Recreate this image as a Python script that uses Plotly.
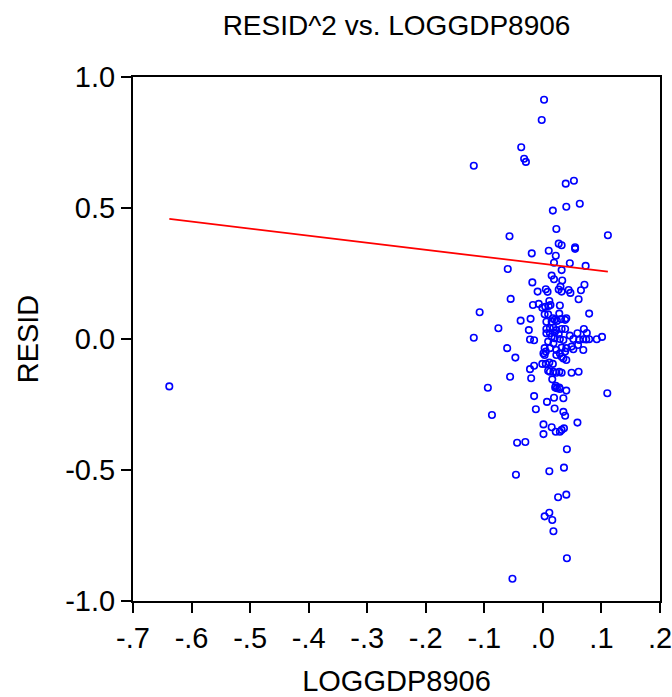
import plotly.graph_objects as go

# LOGGDP8906 (x) and RESID (y) values
loggdp8906 = [
    0.002, -0.002, -0.037, -0.032, -0.029, -0.118, 0.053, 0.039, 0.063, 0.040,
    0.017, 0.023, -0.057, 0.111, 0.027, 0.032, 0.055, 0.055, 0.010, -0.019, 0.022,
    -0.060, 0.019, 0.032, 0.046, 0.073, 0.015, 0.019, 0.033, -0.018, 0.071,
    0.030, 0.027, 0.032, 0.005, 0.008, -0.009, 0.044, 0.047, 0.065, 0.061, -0.055,
    0.011, -0.007, -0.017, -0.001, 0.004, 0.010, 0.013, 0.029, -0.108, 0.003,
    0.009, 0.028, 0.079, -0.021, 0.017, 0.040, 0.031, -0.038, 0.006, 0.015,
    0.020, 0.024, 0.038,
    -0.076, -0.024, 0.006, 0.012, 0.018, 0.023, 0.032, 0.038, 0.070, 0.046,
    0.059, 0.075, -0.118, -0.022, -0.015, 0.015, 0.020, 0.029, 0.035, 0.009,
    0.018, 0.052, 0.062, 0.069, 0.074, 0.079, 0.092, 0.101, 0.012, 0.020, 0.027, 0.006,
    -0.061, 0.003, 0.012, 0.023, 0.032, 0.040, 0.049, 0.060, 0.052, 0.001,
    0.003, 0.005, 0.023, 0.029, 0.032, 0.038, 0.069, -0.047, 0.035, 0.040,
    -0.015, -0.022, -0.001, 0.005, 0.017, 0.011, 0.012, 0.018, 0.023, 0.028,
    0.032, 0.009, 0.049, 0.061,
    -0.056, -0.020, 0.016, -0.094, 0.021, 0.024, 0.028, 0.029, 0.022, 0.040,
    0.110, -0.015, 0.019, 0.035, 0.007, -0.012, 0.020, 0.035, 0.038, -0.087,
    0.059, 0.001, 0.015, 0.022, 0.029, 0.032, 0.036, 0.001,
    -0.044, -0.030, 0.041, -0.046, 0.011, 0.036, 0.026, 0.040, 0.011, 0.003,
    0.016, 0.018, 0.041, -0.052,
    -0.638,
]
resid = [
    0.913, 0.836, 0.732, 0.688, 0.676, 0.661, 0.604, 0.593, 0.516, 0.505,
    0.490, 0.420, 0.392, 0.396, 0.364, 0.358, 0.350, 0.344, 0.337, 0.327, 0.318,
    0.267, 0.291, 0.263, 0.289, 0.279, 0.242, 0.228, 0.223, 0.216, 0.207,
    0.200, 0.189, 0.181, 0.190, 0.180, 0.181, 0.187, 0.176, 0.186, 0.152, 0.153,
    0.145, 0.134, 0.130, 0.119, 0.123, 0.126, 0.130, 0.128, 0.102, 0.094,
    0.094, 0.097, 0.097, 0.077, 0.079, 0.079, 0.076, 0.070, 0.066, 0.066,
    0.073, 0.069, 0.073,
    0.041, 0.034, 0.038, 0.041, 0.043, 0.034, 0.038, 0.038, 0.038, 0.013,
    0.022, 0.023, 0.005, -0.002, -0.005, 0.009, 0.003, 0.000, -0.004, -0.010,
    -0.016, 0.000, -0.004, -0.001, -0.002, -0.001, -0.001, 0.008, 0.022, 0.025, 0.019, 0.022,
    -0.035, -0.035, -0.035, -0.042, -0.033, -0.035, -0.029, -0.023, -0.039, -0.055,
    -0.061, -0.048, -0.061, -0.055, -0.068, -0.048, -0.042, -0.071, -0.074, -0.080,
    -0.102, -0.115, -0.095, -0.095, -0.095, -0.090, -0.125, -0.125, -0.129, -0.125,
    -0.129, -0.121, -0.129, -0.125,
    -0.144, -0.150, -0.154, -0.186, -0.185, -0.188, -0.185, -0.191, -0.179, -0.197,
    -0.207, -0.218, -0.224, -0.226, -0.240, -0.268, -0.265, -0.278, -0.293, -0.290,
    -0.319, -0.326, -0.337, -0.354, -0.354, -0.347, -0.341, -0.363,
    -0.396, -0.393, -0.421, -0.518, -0.505, -0.491, -0.604, -0.594, -0.663, -0.677,
    -0.691, -0.734, -0.837, -0.915,
    -0.181,
]

# Fitted regression line coefficients (RESID on LOGGDP8906)
fit_intercept = 0.2866
fit_slope = -0.269

x_tick_vals = [-0.7, -0.6, -0.5, -0.4, -0.3, -0.2, -0.1, 0.0, 0.1, 0.2]
x_tick_text = ["-.7", "-.6", "-.5", "-.4", "-.3", "-.2", "-.1", ".0", ".1", ".2"]
y_tick_vals = [-1.0, -0.5, 0.0, 0.5, 1.0]
y_tick_text = ["-1.0", "-0.5", "0.0", "0.5", "1.0"]

fit_x = [min(loggdp8906), max(loggdp8906)]
fit_y = [fit_intercept + fit_slope * v for v in fit_x]

FONT = "Liberation Sans, Arial, sans-serif"

fig = go.Figure()
fig.add_trace(go.Scatter(
    x=loggdp8906, y=resid, mode="markers",
    marker=dict(symbol="circle-open", size=6.5, color="#0000FF",
                line=dict(width=1.6, color="#0000FF")),
    showlegend=False,
))
fig.add_trace(go.Scatter(
    x=fit_x, y=fit_y, mode="lines",
    line=dict(color="#FF0000", width=1.8),
    showlegend=False,
))

fig.update_layout(
    width=672, height=697,
    margin=dict(l=133, r=12, t=77, b=96),
    paper_bgcolor="white", plot_bgcolor="white",
    font=dict(family=FONT, color="black", size=29),
    title=dict(text="RESID^2 vs. LOGGDP8906", x=0.5, xref="paper",
               y=1 - 25 / 697, yref="container", yanchor="middle",
               font=dict(size=28, family=FONT, color="black")),
)
fig.update_xaxes(
    range=[-0.7, 0.2], tickvals=x_tick_vals, ticktext=x_tick_text,
    showgrid=False, zeroline=False, automargin=False,
    ticklabeloverflow="allow",
    showline=True, linecolor="black", linewidth=2, mirror=True,
    ticks="outside", ticklen=10, tickwidth=2, tickcolor="black",
    tickfont=dict(size=29, family=FONT),
    title=dict(text="LOGGDP8906", font=dict(size=29, family=FONT), standoff=28),
)
fig.update_yaxes(
    range=[-1.0, 1.0], tickvals=y_tick_vals, ticktext=y_tick_text,
    showgrid=False, zeroline=False, automargin=False,
    ticklabeloverflow="allow",
    showline=True, linecolor="black", linewidth=2, mirror=True,
    ticks="outside", ticklen=10, tickwidth=2, tickcolor="black",
    tickfont=dict(size=29, family=FONT),
    title=dict(text="RESID", font=dict(size=29, family=FONT), standoff=18),
)

fig.write_html("out.html")
